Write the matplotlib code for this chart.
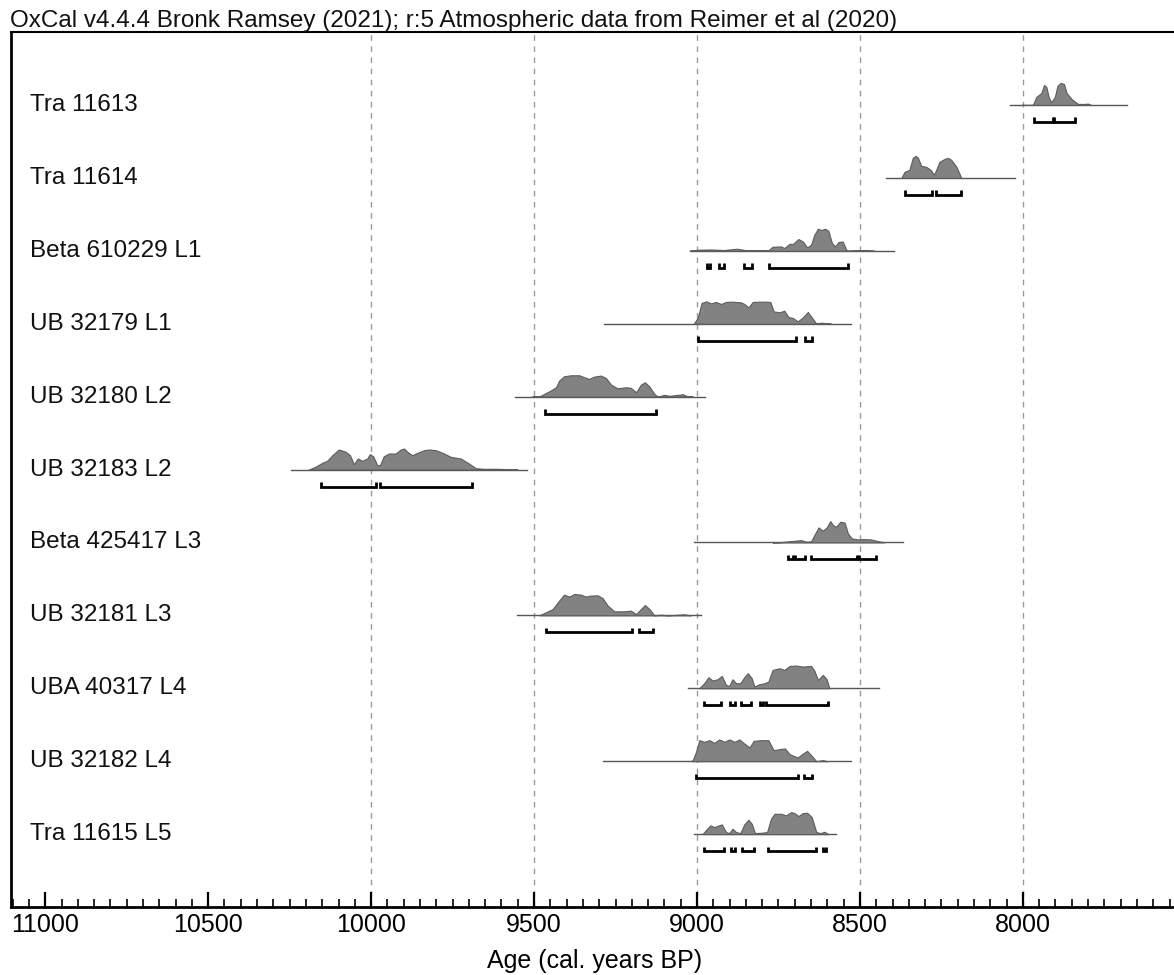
import matplotlib
matplotlib.use('Agg')
import matplotlib.pyplot as plt
from matplotlib.ticker import MultipleLocator
import matplotlib.transforms as mtransforms

plt.rcParams['font.family'] = ['Liberation Sans', 'DejaVu Sans']

TITLE = "OxCal v4.4.4 Bronk Ramsey (2021); r:5 Atmospheric data from Reimer et al (2020)"

labels = ["Tra 11613", "Tra 11614", "Beta 610229 L1", "UB 32179 L1", "UB 32180 L2",
          "UB 32183 L2", "Beta 425417 L3", "UB 32181 L3", "UBA 40317 L4",
          "UB 32182 L4", "Tra 11615 L5"]

# extent of the thin baseline for each sample (cal BP)
span_old = [8038, 8419, 9018, 9285, 9559, 10247, 9008, 9551, 9029, 9287, 9008]
span_young = [7682, 8023, 8394, 8527, 8975, 9522, 8368, 8988, 8440, 8527, 8573]

# posterior densities (age cal BP, relative height)
tra11613_age = [8005, 7969, 7959, 7943, 7935, 7928, 7921, 7913, 7902, 7894, 7884, 7874,
                7866, 7851, 7831, 7810, 7800, 7790]
tra11613_p = [0, 0, 8, 12, 20, 18, 8, 2.5, 8, 19, 22, 21, 12, 6, 1, 1, 1.3, 0]

tra11614_age = [8373, 8363, 8348, 8338, 8329, 8322, 8312, 8297, 8283, 8273, 8266, 8256,
                8240, 8230, 8220, 8204, 8189]
tra11614_p = [0, 6, 8, 20, 22, 20, 12, 11, 8, 3, 8, 16, 19, 20, 18, 11, 0]

beta610229_age = [9023, 8998, 8958, 8918, 8878, 8848, 8781, 8768, 8742, 8732, 8716, 8706,
                  8689, 8675, 8662, 8650, 8640, 8629, 8619, 8607, 8597, 8586, 8576, 8566,
                  8553, 8542, 8537, 8496, 8455]
beta610229_p = [0, 1, 1.3, 0.7, 2, 0.5, 0.5, 4, 4.3, 2.7, 7, 6.7, 11.7, 9.3, 3.3, 6, 16,
                22, 20.7, 22, 20, 7.7, 4.3, 8.7, 9.3, 1, 0, 0.7, 0]

ub32179_age = [9010, 8998, 8986, 8972, 8957, 8942, 8926, 8911, 8896, 8880, 8865, 8855,
               8842, 8829, 8809, 8788, 8775, 8765, 8747, 8732, 8720, 8706, 8691, 8675,
               8660, 8650, 8634, 8619, 8599, 8589]
ub32179_p = [0, 5.7, 20.7, 22.3, 20.3, 21.7, 19.7, 21.7, 22, 21.7, 21.3, 19.7, 16.3, 21.7,
             22, 22, 21.7, 12.3, 11.3, 13, 6.7, 5.7, 2.3, 6.3, 11.7, 7.3, 0, 1, 0.3, 0]

ub32180_age = [9505, 9484, 9469, 9449, 9433, 9423, 9408, 9387, 9361, 9346, 9331, 9315,
               9295, 9280, 9264, 9244, 9218, 9203, 9187, 9172, 9160, 9146, 9131, 9121,
               9100, 9085, 9044, 9029, 9013]
ub32180_p = [0.5, 0, 2.7, 6, 9.3, 16, 20.3, 21.3, 21.3, 19.3, 17.7, 20, 21, 18.7, 12, 8.3,
             9.3, 8.7, 4.3, 12, 14.3, 10, 2.7, 0, 1.7, 0.7, 2.3, 0.3, 0]

ub32183_age = [10191, 10171, 10150, 10135, 10119, 10099, 10078, 10065, 10053, 10041,
               10027, 10012, 10004, 9994, 9981, 9973, 9961, 9945, 9925, 9909, 9899, 9889,
               9874, 9858, 9838, 9822, 9802, 9781, 9756, 9725, 9700, 9679, 9654, 9613,
               9572, 9551]
ub32183_p = [0, 2.7, 6.7, 8.7, 14.3, 20, 17.7, 14.3, 5.3, 11, 8.7, 11, 15.3, 13.3, 4.3,
             4.3, 13.3, 16, 16, 20, 21, 17.7, 14.3, 16.7, 19.3, 20, 19.3, 16.7, 12.7, 11,
             6, 1.3, 0.7, 0.7, 0.3, 0]

beta425417_age = [8768, 8742, 8711, 8681, 8665, 8650, 8640, 8627, 8614, 8602, 8591, 8583,
                  8573, 8560, 8547, 8537, 8525, 8506, 8491, 8466, 8445, 8425]
beta425417_p = [0, 0.3, 1.3, 2.3, 0.7, 1, 7.3, 15, 11.7, 15, 21.3, 17.3, 15.7, 20.7, 19.7,
                9, 4, 3, 3.3, 3, 1.3, 0]

ub32181_age = [9484, 9464, 9443, 9423, 9408, 9392, 9377, 9356, 9341, 9328, 9305, 9290,
               9274, 9254, 9223, 9203, 9187, 9172, 9160, 9146, 9131, 9111, 9090, 9039,
               9019]
ub32181_p = [0, 3, 6.3, 14.7, 20.7, 18.7, 21.3, 20.7, 18.7, 19.7, 20, 17.3, 9.7, 4, 4,
             4.7, 1.3, 6.3, 10.3, 6.3, 0, 0.7, 0, 1, 0]

uba40317_age = [8993, 8978, 8965, 8952, 8937, 8924, 8911, 8901, 8891, 8880, 8867, 8855,
                8844, 8832, 8824, 8809, 8793, 8781, 8768, 8747, 8732, 8716, 8696, 8675,
                8650, 8640, 8629, 8614, 8602, 8594]
uba40317_p = [0, 5, 11, 7.7, 9, 12.3, 3.3, 2.3, 9, 5, 5, 11, 15, 10, 1.7, 4, 5, 6.7, 18.3,
              20, 18.3, 22.3, 22.7, 21.7, 22.3, 17.7, 8.3, 13.3, 9, 0]

ub32182_age = [9020, 9013, 9003, 8993, 8978, 8962, 8947, 8932, 8916, 8901, 8885, 8870,
               8855, 8839, 8826, 8803, 8781, 8765, 8747, 8730, 8716, 8701, 8691, 8675,
               8662, 8650, 8634, 8614, 8599]
ub32182_p = [0, 1, 9.3, 21, 19.3, 21, 18.3, 21.7, 19.3, 21.7, 19.3, 21.7, 17.7, 13.7, 20.3,
             21, 21, 11, 12, 12.7, 7, 5, 3.7, 7.7, 10.3, 6, 0, 1, 0]

tra11615_age = [8983, 8969, 8959, 8947, 8924, 8911, 8901, 8891, 8880, 8867, 8855, 8842,
                8832, 8822, 8803, 8785, 8773, 8762, 8742, 8727, 8711, 8701, 8689, 8675,
                8662, 8648, 8634, 8621, 8609, 8597]
tra11615_p = [0, 5.3, 8.7, 7, 9.7, 2, 1, 5.3, 2, 1, 9.7, 14.3, 10.3, 1, 1.3, 2, 15.3, 20.3,
              20.3, 18.7, 22, 21, 18, 21, 21.3, 17, 2, 1, 2.3, 0]

# 95.4% hpd ranges drawn as brackets (old, young)
tra11613_hpd = [(7966, 7909), (7905, 7839)]
tra11614_hpd = [(8363, 8278), (8268, 8189)]
beta610229_hpd = [(8969, 8959), (8934, 8916), (8857, 8831), (8778, 8537)]
ub32179_hpd = [(8998, 8696), (8670, 8648)]
ub32180_hpd = [(9466, 9126)]
ub32183_hpd = [(10155, 9986), (9973, 9689)]
beta425417_hpd = [(8720, 8706), (8699, 8668), (8650, 8509), (8504, 8450)]
ub32181_hpd = [(9464, 9201), (9177, 9136)]
uba40317_hpd = [(8980, 8926), (8898, 8883), (8865, 8834), (8808, 8797), (8788, 8599)]
ub32182_hpd = [(9003, 8691), (8672, 8647)]
tra11615_hpd = [(8980, 8918), (8896, 8883), (8863, 8826), (8783, 8634), (8614, 8604)]

ages = [tra11613_age, tra11614_age, beta610229_age, ub32179_age, ub32180_age, ub32183_age,
        beta425417_age, ub32181_age, uba40317_age, ub32182_age, tra11615_age]
probs = [tra11613_p, tra11614_p, beta610229_p, ub32179_p, ub32180_p, ub32183_p,
         beta425417_p, ub32181_p, uba40317_p, ub32182_p, tra11615_p]
hpds = [tra11613_hpd, tra11614_hpd, beta610229_hpd, ub32179_hpd, ub32180_hpd, ub32183_hpd,
        beta425417_hpd, ub32181_hpd, uba40317_hpd, ub32182_hpd, tra11615_hpd]

grid_years = [10000, 9500, 9000, 8500, 8000]

W, H = 1174, 975
DPI = 100
ROW_PX = 875 / 12.0          # pixels per row unit
P_SCALE = 1.0 / ROW_PX       # density readings are in pixels
BRACKET_OFF = 17 / ROW_PX
BRACKET_TICK = 4.5 / ROW_PX

fig = plt.figure(figsize=(W / DPI, H / DPI), dpi=DPI)
ax = fig.add_axes([10.7 / W, 68 / H, (1178 - 10.7) / W, 875 / H])

for yr in grid_years:
    ax.axvline(yr, color='#9a9a9a', lw=1.0, ls=(0, (4, 4)), zorder=0)

n = len(labels)
for i in range(n):
    y0 = n - i
    ax.plot([span_old[i], span_young[i]], [y0, y0], color='#555555', lw=1.0, zorder=2)
    top = [y0 + p * P_SCALE for p in probs[i]]
    ax.fill_between(ages[i], y0, top, facecolor='#828282', edgecolor='#5c5c5c',
                    lw=0.8, zorder=3)
    yb = y0 - BRACKET_OFF
    for a, b in hpds[i]:
        ax.plot([a, a, b, b], [yb + BRACKET_TICK, yb, yb, yb + BRACKET_TICK],
                color='black', lw=2.0, solid_joinstyle='miter', solid_capstyle='butt',
                zorder=4)
    trans = mtransforms.blended_transform_factory(ax.transAxes, ax.transData)
    ax.text(0.0166, y0, labels[i], transform=trans, ha='left', va='center',
            fontsize=17.5, color='#111111')

ax.set_xlim(11106, 7524)
ax.set_ylim(0, 12)
ax.xaxis.set_major_locator(MultipleLocator(500))
ax.xaxis.set_minor_locator(MultipleLocator(50))
ax.set_yticks([])
ax.tick_params(axis='x', which='major', direction='in', length=11, width=1.6,
               labelsize=18, pad=4, top=False)
ax.tick_params(axis='x', which='minor', direction='in', length=5.5, width=1.2, top=False)
for side in ['left', 'bottom']:
    ax.spines[side].set_linewidth(2.0)
ax.spines['top'].set_linewidth(1.5)
ax.spines['right'].set_linewidth(1.5)
ax.set_xlabel('Age (cal. years BP)', fontsize=18, labelpad=9)

fig.text(10 / W, 1 - 21 / H, TITLE, ha='left', va='center', fontsize=17.5, color='#111111')

fig.savefig('out.png', dpi=DPI)
